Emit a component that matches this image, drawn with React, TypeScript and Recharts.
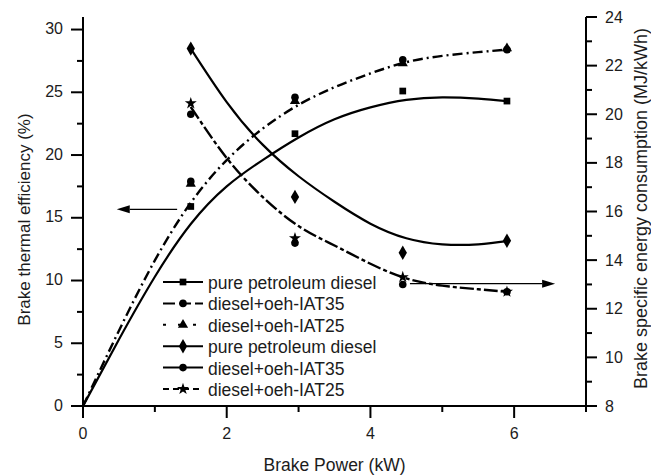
import {
  ComposedChart,
  Legend,
  Line,
  ReferenceLine,
  Scatter,
  Symbols,
  XAxis,
  YAxis,
} from "recharts";

// measured points (brake power in kW)
const powerMeasured = [1.5, 2.95, 4.45, 5.9];
const bteDiesel = [15.9, 21.7, 25.1, 24.3];
const bteIat35 = [17.9, 24.6, 27.6, 28.4];
const bteIat25 = [17.7, 24.3, 27.3, 28.5];
const bsecDiesel = [22.7, 16.6, 14.3, 14.8];
const bsecIat35 = [20.0, 14.7, 13.0, 12.7];
const bsecIat25 = [20.45, 14.9, 13.3, 12.7];

// fitted curves
const fitPowerBte = [0, 0.5, 1, 1.5, 2, 2.5, 3, 3.5, 4, 4.5, 5, 5.5, 5.9];
const bteDieselFit = [0, 5.3, 10.3, 14.5, 17.5, 19.6, 21.4, 22.85, 23.8, 24.4, 24.6, 24.5, 24.3];
const bteIatFit = [0, 6.0, 11.6, 16.2, 19.6, 22.1, 24.0, 25.4, 26.5, 27.4, 27.9, 28.2, 28.4];
const fitPowerBsec = [1.5, 2, 2.5, 3, 3.5, 4, 4.5, 5, 5.5, 5.9];
const bsecDieselFit = [22.7, 20.5, 18.75, 17.45, 16.4, 15.5, 14.9, 14.65, 14.65, 14.78];
const bsecIatFit = [20.3, 18.2, 16.6, 15.4, 14.6, 13.85, 13.25, 12.95, 12.8, 12.7];

// axis ticks
const powerTicks = [0, 1, 2, 3, 4, 5, 6, 7];
const powerLabels = [0, 2, 4, 6];
const bteTicks = [0, 2.5, 5, 7.5, 10, 12.5, 15, 17.5, 20, 22.5, 25, 27.5, 30];
const bteLabels = [0, 5, 10, 15, 20, 25, 30];
const bsecTicks = [8, 9, 10, 11, 12, 13, 14, 15, 16, 17, 18, 19, 20, 21, 22, 23, 24];
const bsecLabels = [8, 10, 12, 14, 16, 18, 20, 22, 24];

const legendNames = [
  "pure petroleum diesel",
  "diesel+oeh-IAT35",
  "diesel+oeh-IAT25",
  "pure petroleum diesel",
  "diesel+oeh-IAT35",
  "diesel+oeh-IAT25",
];
const legendShapes = ["square", "circle", "triangle", "diamond", "circle", "star"] as const;
const legendDashes = [undefined, "12 4", "3 12", undefined, undefined, "6 4"];

const FONT = "'Liberation Sans', Arial, sans-serif";
const INK = "#1c1c1c";

const toPoints = (xs: number[], ys: number[]) => xs.map((x, i) => ({ x, y: ys[i] }));

function marker(type: any, size: number) {
  return (p: any) => <Symbols cx={p.cx} cy={p.cy} type={type} size={size} fill="#000" stroke="none" />;
}

function XTick({ x, y, payload }: any) {
  const major = powerLabels.includes(payload.value);
  return (
    <g>
      <line x1={x} x2={x} y1={y} y2={y + (major ? 12 : 6)} stroke="#000" strokeWidth={2} />
      {major && (
        <text x={x} y={y + 27} textAnchor="middle" dominantBaseline="central" fontFamily={FONT} fontSize={16} fill={INK}>
          {payload.value}
        </text>
      )}
    </g>
  );
}

function LeftTick({ x, y, payload }: any) {
  const major = bteLabels.includes(payload.value);
  return (
    <g>
      <line x1={x} x2={x - (major ? 12 : 6)} y1={y} y2={y} stroke="#000" strokeWidth={2} />
      {major && (
        <text x={x - 20} y={y - 1} textAnchor="end" dominantBaseline="central" fontFamily={FONT} fontSize={16} fill={INK}>
          {payload.value}
        </text>
      )}
    </g>
  );
}

function RightTick({ x, y, payload }: any) {
  const major = bsecLabels.includes(payload.value);
  return (
    <g>
      <line x1={x} x2={x + (major ? 11 : 6)} y1={y} y2={y} stroke="#000" strokeWidth={2} />
      {major && (
        <text x={x + 19} y={y} textAnchor="start" dominantBaseline="central" fontFamily={FONT} fontSize={16} fill={INK}>
          {payload.value}
        </text>
      )}
    </g>
  );
}

function Arrow(props: any) {
  const { x1, y1, x2, y2 } = props;
  const dir = x2 > x1 ? 1 : -1;
  const head = 13;
  return (
    <g>
      <line x1={x1} y1={y1} x2={x2 - dir * head} y2={y2} stroke="#000" strokeWidth={1.2} />
      <polygon points={`${x2},${y2} ${x2 - dir * head},${y2 - 4} ${x2 - dir * head},${y2 + 4}`} fill="#000" />
    </g>
  );
}

function LegendBox() {
  return (
    <svg width={240} height={135} style={{ display: "block" }}>
      {legendNames.map((name, i) => {
        const cy = 14 + i * 21.4;
        return (
          <g key={i}>
            <line x1={5} x2={45} y1={cy} y2={cy} stroke="#000" strokeWidth={2} strokeDasharray={legendDashes[i]} />
            <Symbols cx={25} cy={cy} type={legendShapes[i]} size={legendShapes[i] === "diamond" ? 60 : 45} fill="#000" />
            <text x={50} y={cy + 1} dominantBaseline="central" fontFamily={FONT} fontSize={17.5} fill={INK}>
              {name}
            </text>
          </g>
        );
      })}
    </svg>
  );
}

const leftTitle = (p: any) => {
  const vb = p.viewBox;
  const cx = vb.x + 24;
  const cy = vb.y + vb.height / 2 + 8;
  return (
    <text x={cx} y={cy} transform={`rotate(-90 ${cx} ${cy})`} textAnchor="middle" dominantBaseline="central" fontFamily={FONT} fontSize={17} fill={INK}>
      Brake thermal efficiency (%)
    </text>
  );
};

const rightTitle = (p: any) => {
  const vb = p.viewBox;
  const cx = vb.x + 55;
  const cy = vb.y + vb.height / 2 - 3;
  return (
    <text x={cx} y={cy} transform={`rotate(-90 ${cx} ${cy})`} textAnchor="middle" dominantBaseline="central" fontFamily={FONT} fontSize={18} fill={INK}>
      Brake specific energy consumption (MJ/kWh)
    </text>
  );
};

const bottomTitle = (p: any) => {
  const vb = p.viewBox;
  return (
    <text x={vb.x + vb.width / 2} y={vb.y + 59} textAnchor="middle" dominantBaseline="central" fontFamily={FONT} fontSize={17.5} fill={INK}>
      Brake Power (kW)
    </text>
  );
};

export default function App() {
  return (
    <div style={{ position: "absolute", left: 0, top: 0, background: "#fff" }}>
      <ComposedChart width={651} height={475} margin={{ top: 17, right: 0, bottom: 0, left: 0 }}>
        <XAxis
          type="number"
          dataKey="x"
          domain={[0, 7]}
          ticks={powerTicks}
          interval={0}
          tickSize={0}
          tickMargin={0}
          tickLine={false}
          tick={<XTick />}
          axisLine={{ stroke: "#000", strokeWidth: 2 }}
          height={69}
          label={{ content: bottomTitle }}
        />
        <YAxis
          yAxisId="bte"
          type="number"
          domain={[0, 31]}
          ticks={bteTicks}
          interval={0}
          tickSize={0}
          tickMargin={0}
          tickLine={false}
          tick={<LeftTick />}
          axisLine={{ stroke: "#000", strokeWidth: 2 }}
          width={83}
          label={{ content: leftTitle }}
        />
        <YAxis
          yAxisId="bsec"
          orientation="right"
          type="number"
          domain={[8, 24]}
          ticks={bsecTicks}
          interval={0}
          tickSize={0}
          tickMargin={0}
          tickLine={false}
          tick={<RightTick />}
          axisLine={{ stroke: "#000", strokeWidth: 2 }}
          width={65}
          label={{ content: rightTitle }}
        />

        <Line yAxisId="bte" data={toPoints(fitPowerBte, bteDieselFit)} dataKey="y" type="natural" stroke="#000" strokeWidth={2.2} dot={false} activeDot={false} isAnimationActive={false} />
        <Line yAxisId="bte" data={toPoints(fitPowerBte, bteIatFit)} dataKey="y" type="natural" stroke="#000" strokeWidth={2.4} strokeDasharray="10 4 2 4" dot={false} activeDot={false} isAnimationActive={false} />
        <Line yAxisId="bsec" data={toPoints(fitPowerBsec, bsecDieselFit)} dataKey="y" type="natural" stroke="#000" strokeWidth={2.2} dot={false} activeDot={false} isAnimationActive={false} />
        <Line yAxisId="bsec" data={toPoints(fitPowerBsec, bsecIatFit)} dataKey="y" type="natural" stroke="#000" strokeWidth={2.4} strokeDasharray="14 3 4 3" dot={false} activeDot={false} isAnimationActive={false} />

        <Scatter yAxisId="bte" data={toPoints(powerMeasured, bteDiesel)} dataKey="y" shape={marker("square", 45)} isAnimationActive={false} />
        <Scatter yAxisId="bte" data={toPoints(powerMeasured, bteIat35)} dataKey="y" shape={marker("circle", 45)} isAnimationActive={false} />
        <Scatter yAxisId="bte" data={toPoints(powerMeasured, bteIat25)} dataKey="y" shape={marker("triangle", 45)} isAnimationActive={false} />
        <Scatter yAxisId="bsec" data={toPoints(powerMeasured, bsecDiesel)} dataKey="y" shape={marker("diamond", 60)} isAnimationActive={false} />
        <Scatter yAxisId="bsec" data={toPoints(powerMeasured, bsecIat35)} dataKey="y" shape={marker("circle", 45)} isAnimationActive={false} />
        <Scatter yAxisId="bsec" data={toPoints(powerMeasured, bsecIat25)} dataKey="y" shape={marker("star", 45)} isAnimationActive={false} />

        <ReferenceLine yAxisId="bte" segment={[{ x: 1.31, y: 15.67 }, { x: 0.47, y: 15.67 }]} shape={Arrow} />
        <ReferenceLine yAxisId="bsec" segment={[{ x: 4.55, y: 13.03 }, { x: 6.57, y: 13.03 }]} shape={Arrow} />

        <Legend
          layout="vertical"
          align="center"
          verticalAlign="middle"
          content={() => <LegendBox />}
          wrapperStyle={{ left: 158, top: 268, width: 240 }}
        />
      </ComposedChart>
    </div>
  );
}
